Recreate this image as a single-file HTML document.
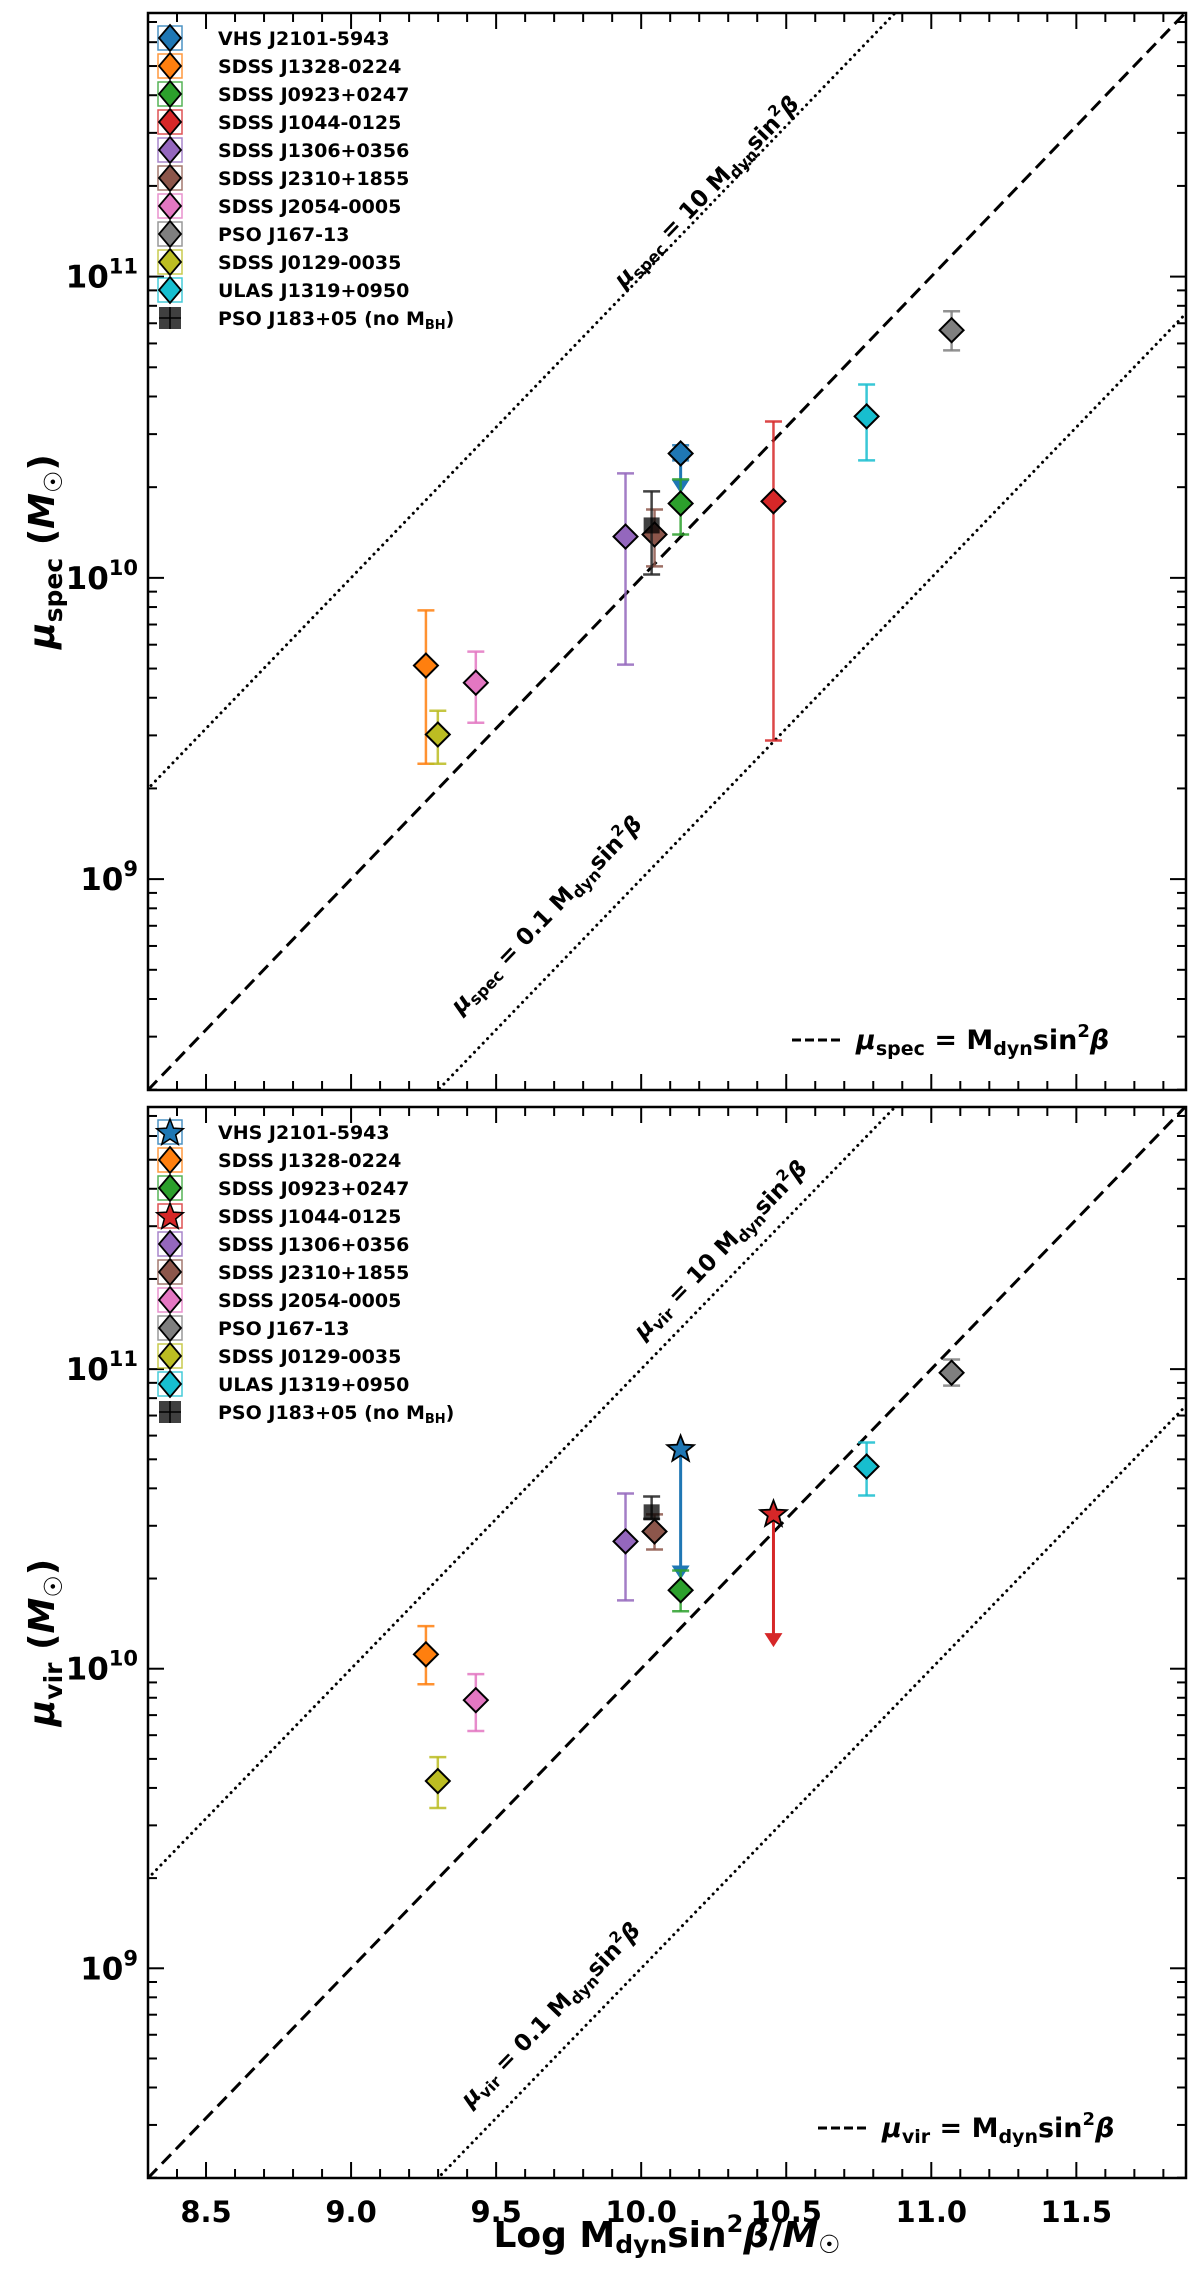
<!DOCTYPE html>
<html><head><meta charset="utf-8"><style>
html,body{margin:0;padding:0;background:#fff;width:1200px;height:2274px;overflow:hidden;}
svg{display:block;font-family:"DejaVu Sans","Liberation Sans",sans-serif;font-weight:bold;}
</style></head><body>
<svg id="fig" width="1200" height="2274" viewBox="0 0 1200 2274" xmlns="http://www.w3.org/2000/svg"></svg>
<script>
// ---- data ----
const names = ["VHS J2101-5943","SDSS J1328-0224","SDSS J0923+0247","SDSS J1044-0125","SDSS J1306+0356","SDSS J2310+1855","SDSS J2054-0005","PSO J167-13","SDSS J0129-0035","ULAS J1319+0950","PSO J183+05 (no M_BH)"];
const colors = ["#1f77b4","#ff7f0e","#2ca02c","#d62728","#9467bd","#8c564b","#e377c2","#7f7f7f","#bcbd22","#17becf","#222222"];
const xs = [10.136,9.258,10.136,10.456,9.946,10.046,9.43,11.07,9.299,10.777,10.036];
// top panel (log mu_spec)
const specY  = [10.413,9.709,10.247,10.254,10.137,10.144,9.652,10.822,9.48,10.536,10.174];
const specHi = [10.44,9.892,10.327,10.519,10.347,10.227,9.755,10.885,9.559,10.642,10.287];
const specLo = [10.39,9.383,10.144,9.46,9.712,10.038,9.519,10.755,9.383,10.39,10.011];
const specLim= [10.28,null,null,null,null,null,null,null,null,null,null];
// bottom panel (log mu_vir)
const virY  = [10.732,10.048,10.262,10.515,10.425,10.458,9.895,10.988,9.625,10.675,10.522];
const virHi = [10.732,10.142,10.328,10.515,10.585,10.515,9.982,11.032,9.705,10.755,10.575];
const virLo = [10.732,9.948,10.192,10.515,10.228,10.398,9.792,10.945,9.535,10.578,10.50];
const virLim= [10.298,null,null,10.072,null,null,null,null,null,null,null];
const xTicks = [8.5,9.0,9.5,10.0,10.5,11.0,11.5];
const yTicks = [9,10,11];

const NS="http://www.w3.org/2000/svg";
const svg=document.getElementById('fig');
function mk(tag,attrs,parent){const e=document.createElementNS(NS,tag);for(const k in attrs)e.setAttribute(k,attrs[k]);(parent||svg).appendChild(e);return e;}
const L=148,R=1186,XMIN=8.3,XMAX=11.878,LMIN=8.3,LMAX=11.875;
const X=v=>L+(v-XMIN)/(XMAX-XMIN)*(R-L);

function panel(top,bot,key,Ys,His,Los,Lims,showX,lab,a10,a01){
  const Y=v=>top+(LMAX-v)/(LMAX-LMIN)*(bot-top);
  const g=mk('g',{});
  
  
  const cid='clip'+key;
  const cp=mk('clipPath',{id:cid},g);mk('rect',{x:L,y:top,width:R-L,height:bot-top},cp);
  const lines=mk('g',{'clip-path':'url(#'+cid+')'},g);
  const dl=mk('line',{x1:X(XMIN),y1:Y(XMIN),x2:X(XMAX),y2:Y(XMAX),stroke:'#000','stroke-width':3,'stroke-dasharray':'13,7'},lines);
  
  [1,-1].forEach(o=>{const l=mk('line',{x1:X(7),y1:Y(7+o),x2:X(13),y2:Y(13+o),stroke:'#000','stroke-width':3,'stroke-dasharray':'0.1,6.2','stroke-linecap':'round'},lines);
    });
  const ang=-Math.atan2(Y(10)-Y(11),X(11)-X(10))*180/Math.PI;
  function ann(p,txt,name){const px=p[0],py=p[1]+8;
    const t=mk('text',{x:px,y:py,'font-size':23,'text-anchor':'middle',transform:`rotate(${ang} ${px} ${py})`},g);
    t.innerHTML=txt;}
  ann(a10,`<tspan font-style="italic">μ</tspan><tspan font-size="16" dy="5">${lab}</tspan><tspan dy="-5"> = 10 M</tspan><tspan font-size="16" dy="5">dyn</tspan><tspan dy="-5">sin</tspan><tspan font-size="15" dy="-10">2</tspan><tspan dy="10" font-style="italic">β</tspan>`,'annotation-10x');
  ann(a01,`<tspan font-style="italic">μ</tspan><tspan font-size="16" dy="5">${lab}</tspan><tspan dy="-5"> = 0.1 M</tspan><tspan font-size="16" dy="5">dyn</tspan><tspan dy="-5">sin</tspan><tspan font-size="15" dy="-10">2</tspan><tspan dy="10" font-style="italic">β</tspan>`,'annotation-0.1x');
  const tk=mk('g',{stroke:'#000','stroke-width':2},g);
  for(let i=0;i<=40;i++){const v=Math.round((8.3+i*0.1)*10)/10;if(v>XMAX)break;const px=X(v);const major=Math.abs(v*2-Math.round(v*2))<1e-6;const len=major?16:9;
    mk('line',{x1:px,y1:bot,x2:px,y2:bot-len},tk);mk('line',{x1:px,y1:top,x2:px,y2:top+len},tk);}
  for(let d=8;d<=11;d++){for(let m=1;m<=9;m++){const lv=d+Math.log10(m);if(lv<LMIN||lv>LMAX)continue;const py=Y(lv);const len=m===1?16:9;
    mk('line',{x1:L,y1:py,x2:L+len,y2:py},tk);mk('line',{x1:R,y1:py,x2:R-len,y2:py},tk);}}
  yTicks.forEach(d=>{const t=mk('text',{x:L-10,y:Y(d)+11,'font-size':31,'text-anchor':'end'},g);
    t.innerHTML=`10<tspan font-size="21" dy="-14">${d}</tspan>`;
    });
  if(showX){xTicks.forEach(v=>{const t=mk('text',{x:X(v),y:bot+44,'font-size':29,'text-anchor':'middle'},g);t.textContent=v.toFixed(1);
    });}
  const pts=mk('g',{'clip-path':'url(#'+cid+')'},g);
  names.forEach((n,i)=>{
    const px=X(xs[i]),py=Y(Ys[i]),c=colors[i];
    const pg=mk('g',{},pts);
    
    
    const yh=Y(His[i]),yl=Y(Los[i]);
    if(Math.abs(yh-yl)>1){mk('line',{x1:px,y1:yh,x2:px,y2:yl,stroke:c,'stroke-width':2.5,opacity:0.85},pg);
      mk('line',{x1:px-8.5,y1:yh,x2:px+8.5,y2:yh,stroke:c,'stroke-width':2.5,opacity:0.85},pg);
      mk('line',{x1:px-8.5,y1:yl,x2:px+8.5,y2:yl,stroke:c,'stroke-width':2.5,opacity:0.85},pg);}
    const isStar=key==='vir'&&(i===0||i===3);
    if(Lims[i]!==null){const ty=Y(Lims[i]);mk('line',{x1:px,y1:py,x2:px,y2:ty-12,stroke:c,'stroke-width':3},pg);
      mk('polygon',{points:`${px-9},${ty-14} ${px+9},${ty-14} ${px},${ty}`,fill:c},pg);}
    if(i===10){mk('rect',{x:px-8,y:py-8,width:16,height:16,fill:'#000',opacity:0.75},pg);}
    else if(isStar){let p=[];for(let k=0;k<10;k++){const r=k%2?6:14,a=-Math.PI/2+k*Math.PI/5;p.push((px+r*Math.cos(a)).toFixed(1)+','+(py+r*Math.sin(a)).toFixed(1));}
      mk('polygon',{points:p.join(' '),fill:c,stroke:'#000','stroke-width':1.8},pg);}
    else mk('polygon',{points:`${px},${py-12} ${px+12},${py} ${px},${py+12} ${px-12},${py}`,fill:c,stroke:'#000','stroke-width':2},pg);
  });
  const lg=mk('g',{},g);
  names.forEach((n,i)=>{const ly=top+25+i*28,lx=170,c=colors[i];
    const e=mk('g',{},lg);
    const isStar=key==='vir'&&(i===0||i===3);
    if(i===10){mk('rect',{x:lx-11,y:ly-11,width:22,height:22,fill:'#000',opacity:0.75},e);mk('line',{x1:lx,y1:ly-11,x2:lx,y2:ly+11,stroke:'#000','stroke-width':1.5},e);mk('line',{x1:lx-11,y1:ly,x2:lx+11,y2:ly,stroke:'#000','stroke-width':1.5},e);}
    else{mk('rect',{x:lx-12,y:ly-12,width:24,height:24,fill:'none',stroke:c,'stroke-width':1.5,opacity:0.8},e);
      if(isStar){let p=[];for(let k=0;k<10;k++){const r=k%2?6:14,a=-Math.PI/2+k*Math.PI/5;p.push((lx+r*Math.cos(a)).toFixed(1)+','+(ly+1+r*Math.sin(a)).toFixed(1));}mk('polygon',{points:p.join(' '),fill:c,stroke:'#000','stroke-width':1.5},e);}
      else mk('polygon',{points:`${lx},${ly-13} ${lx+11},${ly} ${lx},${ly+13} ${lx-11},${ly}`,fill:c,stroke:'#000','stroke-width':1.8},e);}
    const t=mk('text',{x:218,y:ly+7,'font-size':19},e);
    t.innerHTML=i===10?'PSO J183+05 (no M<tspan font-size="13" dy="4">BH</tspan><tspan dy="-4">)</tspan>':n;
  });
  const ll=mk('g',{},g);
  const ly=bot-50, lx0=key==='spec'?792:818;
  mk('line',{x1:lx0,y1:ly,x2:lx0+48,y2:ly,stroke:'#000','stroke-width':3,'stroke-dasharray':'9,4'},ll);
  const t=mk('text',{x:lx0+64,y:ly+9,'font-size':27},ll);
  t.innerHTML=`<tspan font-style="italic">μ</tspan><tspan font-size="19" dy="6">${lab}</tspan><tspan dy="-6"> = M</tspan><tspan font-size="19" dy="6">dyn</tspan><tspan dy="-6">sin</tspan><tspan font-size="18" dy="-12">2</tspan><tspan dy="12" font-style="italic">β</tspan>`;
  const fr=mk('rect',{x:L,y:top,width:R-L,height:bot-top,fill:'none',stroke:'#000','stroke-width':2.5},g);
  
  const cy=(top+bot)/2;
  const yl=mk('text',{x:54,y:cy,'font-size':36,'text-anchor':'middle',transform:`rotate(-90 54 ${cy})`},g);
  yl.innerHTML=`<tspan font-style="italic">μ</tspan><tspan font-size="25" dy="8">${lab}</tspan><tspan dy="-8"> (</tspan><tspan font-style="italic">M</tspan><tspan font-size="25" dy="8">☉</tspan><tspan dy="-8">)</tspan>`;
  
}
panel(13,1090,'spec',specY,specHi,specLo,specLim,false,'spec',[712,189],[552,912]);
panel(1107,2178,'vir',virY,virHi,virLo,virLim,true,'vir',[726,1247],[556,2012]);
const xl=mk('text',{x:667,y:2247,'font-size':36,'text-anchor':'middle'});
xl.innerHTML='Log M<tspan font-size="25" dy="6">dyn</tspan><tspan dy="-6">sin</tspan><tspan font-size="24" dy="-15">2</tspan><tspan dy="15" font-style="italic">β</tspan>/<tspan font-style="italic">M</tspan><tspan font-size="25" dy="6">☉</tspan>';


</script>
</body></html>
